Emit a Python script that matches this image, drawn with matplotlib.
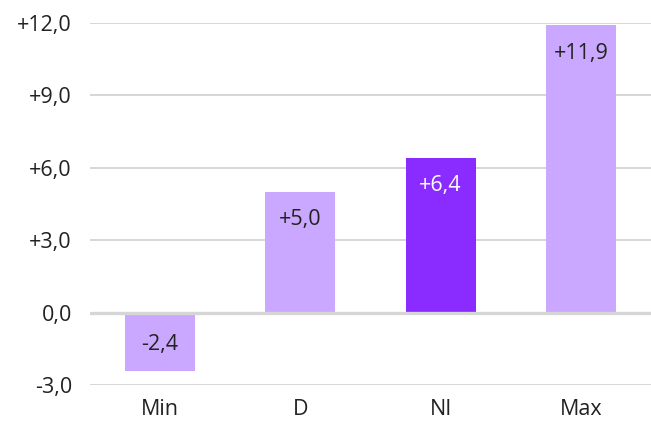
import matplotlib
matplotlib.use("Agg")
import matplotlib.pyplot as plt

categories = ["Min", "D", "NI", "Max"]
values = [-2.4, 5.0, 6.4, 11.9]
bar_colors = ["#cba8ff", "#cba8ff", "#8a2bff", "#cba8ff"]
label_colors = ["#222222", "#222222", "#ffffff", "#222222"]
yticks = [-3, 0, 3, 6, 9, 12]

plt.rcParams['font.family'] = ['Open Sans', 'DejaVu Sans']

def fmt(v):
    s = "%+.1f" % v
    if v == 0:
        s = "0.0"
    return s.replace(".", ",")

fig = plt.figure(figsize=(6.51, 4.21), dpi=100)
ax = fig.add_axes([90 / 651, 1 - 385 / 421, 561 / 651, 362 / 421])

x = list(range(len(categories)))
ax.bar(x, values, width=0.5, color=bar_colors, zorder=3)

for xi, v, c in zip(x, values, label_colors):
    off = -20 if v > 0 else 19
    ax.annotate(fmt(v), (xi, v), xytext=(0, off), textcoords="offset points",
                ha="center", va="center", fontsize=15.5, color=c, zorder=4)

ax.set_xlim(-0.5, 3.5)
ax.set_ylim(-3, 12)
ax.set_yticks(yticks)
ax.set_yticklabels([fmt(t) for t in yticks], fontsize=15.5, color="#222222")
ax.set_xticks(x)
ax.set_xticklabels(categories, fontsize=15.5, color="#222222")
ax.tick_params(axis="y", length=0, pad=13)
ax.tick_params(axis="x", length=0, pad=10)

for t in yticks:
    lw = 2.4 if t == 0 else 1.4
    ax.axhline(t, color="#d6d6d6", lw=lw, zorder=1 if t != 0 else 5)
for s in ax.spines.values():
    s.set_visible(False)

fig.savefig("out.png", dpi=100)
